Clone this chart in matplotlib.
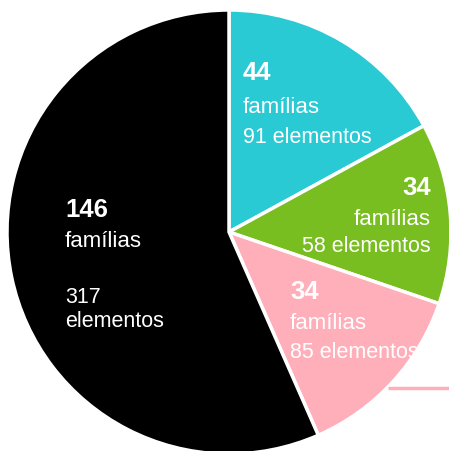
import matplotlib
matplotlib.use('Agg')
import matplotlib.pyplot as plt

plt.rcParams['font.family'] = ['Liberation Sans', 'DejaVu Sans']

# dados
familias = [44, 34, 34, 146]
elementos = [91, 58, 85, 317]
cores = ['#29CAD4', '#78BE20', '#FFAFBA', '#000000']

W, H = 449, 452
fig = plt.figure(figsize=(W / 100, H / 100), dpi=100)
ax = fig.add_axes([0, 0, 1, 1])

cx, cy, r = 229, H - 233, 222
ax.pie(familias, colors=cores, startangle=90, counterclock=False,
       center=(cx, cy), radius=r, frame=True,
       wedgeprops=dict(edgecolor='white', linewidth=2.5))
ax.set_xlim(0, W)
ax.set_ylim(0, H)
ax.set_aspect('equal')
ax.axis('off')

def Y(y):
    return H - y

# posicoes dos rotulos (x, baseline do numero, baseline familias, baseline elementos, alinhamento)
rot = [
    (243, 80, 113, 143, 'left'),
    (431, 195, 225, 252, 'right'),
    (290, 299, 329, 358, 'left'),
]
for i, (x, y1, y2, y3, ha) in enumerate(rot):
    ax.text(x, Y(y1), str(familias[i]), color='white', fontsize=18.5,
            fontweight='bold', ha=ha, va='baseline')
    ax.text(x, Y(y2), 'famílias', color='white', fontsize=16, ha=ha, va='baseline')
    ax.text(x, Y(y3), '%d elementos' % elementos[i], color='white', fontsize=15.5,
            ha=ha, va='baseline')

# fatia preta
ax.text(65, Y(217), str(familias[3]), color='white', fontsize=18.5,
        fontweight='bold', ha='left', va='baseline')
ax.text(65, Y(247), 'famílias', color='white', fontsize=16, ha='left', va='baseline')
ax.text(65, Y(303), str(elementos[3]), color='white', fontsize=15.5, ha='left', va='baseline')
ax.text(65, Y(327), 'elementos', color='white', fontsize=15.5, ha='left', va='baseline')

# linha rosa
ax.plot([388, W], [Y(389), Y(389)], color='#FFAFBA', linewidth=2.5, solid_capstyle='butt')

fig.savefig('out.png', dpi=100)
